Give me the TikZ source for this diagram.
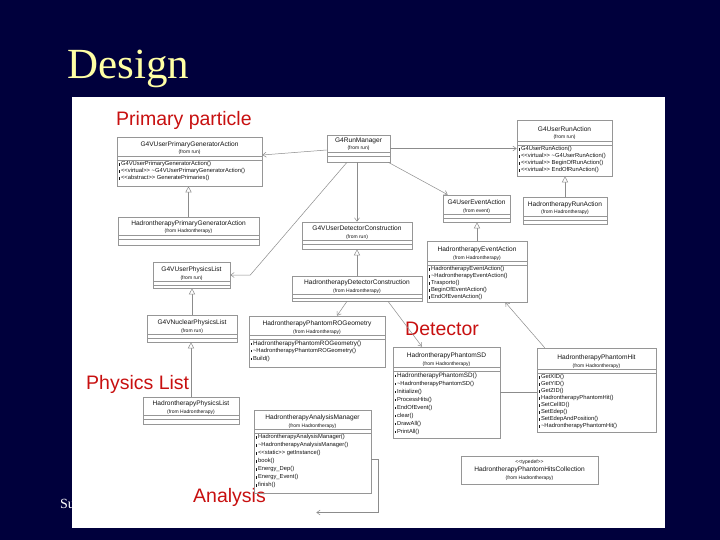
\documentclass[tikz,border=0pt]{standalone}
\usepackage{fontspec}
\setmainfont{Liberation Serif}
\newfontfamily\sansf{Liberation Sans}
\usetikzlibrary{arrows.meta,fit}
\definecolor{navybg}{RGB}{0,0,60}
\definecolor{ttlyellow}{RGB}{255,255,165}
\definecolor{lblred}{RGB}{200,16,16}
\definecolor{boxgray}{RGB}{150,150,150}
\definecolor{linegray}{RGB}{140,140,140}
\definecolor{txt}{RGB}{20,20,20}
\newcommand\mk{\rule[0.4pt]{1.1pt}{2.3pt}\kern0.8pt}
\tikzset{
  cbox/.style={draw=boxgray, line width=0.6pt, inner sep=0pt},
  cline/.style={draw=boxgray, line width=0.6pt},
  nm/.style={font=\sansf\fontsize{6.6}{7}\selectfont, text=txt, inner sep=0pt, anchor=base},
  fr/.style={font=\sansf\fontsize{5}{6}\selectfont, text=txt, inner sep=0pt, anchor=base},
  meth/.style={font=\sansf\fontsize{5.8}{7}\selectfont, text=txt, inner sep=0pt, anchor=north west, align=left},
  assoc/.style={draw=linegray, line width=0.5pt, -{Straight Barb[length=3.5pt,width=5pt]}},
  plainc/.style={draw=linegray, line width=0.5pt},
  gen/.style={draw=linegray, line width=0.5pt, -{Triangle[open,length=6pt,width=6pt,fill=white]}},
  lbl/.style={font=\sansf\fontsize{19.5}{20}\selectfont, text=lblred, inner sep=0pt, anchor=base west},
}
\newcommand\umlc[9]{%
  \node[cbox, fit={(#2,#3) (#4,#5)}] (#1) {};
  \draw[cline] (#2,#3+#6) -- (#4,#3+#6) (#2,#3+#6+4) -- (#4,#3+#6+4);
  \node[nm] (#1-n) at ({(#2+#4)/2},#3+#6-9.5) {#7};
  \node[fr] (#1-f) at ({(#2+#4)/2},#3+#6-2) {#8};
  \node[meth] (#1-m) at (#2+2,#3+#6+5.5) {#9};
}
\begin{document}
\begin{tikzpicture}[x=1pt,y=-1pt]
\fill[navybg] (0,0) rectangle (720,540);
\useasboundingbox (0,0) rectangle (720,540);
\node[anchor=base west, inner sep=0pt, font=\fontsize{43}{43}\selectfont, text=ttlyellow] (title) at (67,79) {Design};
\node[anchor=base west, inner sep=0pt, font=\fontsize{14}{14}\selectfont, text=white] (su) at (60,508) {Su};
\fill[white] (72,97) rectangle (665,528);

\node[lbl] (lpp) at (116,126) {Primary particle};
\node[lbl] (ldet) at (405,335) {Detector};
\node[lbl] (lphys) at (86,389) {Physics List};
\node[lbl] (lana) at (193,502) {Analysis};

\umlc{gpga}{117}{137}{262}{186}{19}{G4VUserPrimaryGeneratorAction}{(from run)}{\mk G4VUserPrimaryGeneratorAction()\\\mk <<virtual>> \textasciitilde G4VUserPrimaryGeneratorAction()\\\mk <<abstract>> GeneratePrimaries()}
\umlc{rm}{327}{135}{390}{162}{17}{G4RunManager}{(from run)}{}
\umlc{ura}{517}{120}{612}{176}{21}{G4UserRunAction}{(from run)}{\mk G4UserRunAction()\\\mk <<virtual>> \textasciitilde G4UserRunAction()\\\mk <<virtual>> BeginOfRunAction()\\\mk <<virtual>> EndOfRunAction()}
\umlc{uea}{443}{195}{510}{222}{19}{G4UserEventAction}{(from event)}{}
\umlc{hra}{523}{197}{607}{224}{19}{HadrontherapyRunAction}{(from Hadrontherapy)}{}
\umlc{hpga}{118}{217}{259}{245}{18}{HadrontherapyPrimaryGeneratorAction}{(from Hadrontherapy)}{}
\umlc{udc}{302}{222}{412}{249}{18}{G4VUserDetectorConstruction}{(from run)}{}
\umlc{hea}{427}{241}{527}{302}{20}{HadrontherapyEventAction}{(from Hadrontherapy)}{\mk HadrontherapyEventAction()\\\mk \textasciitilde HadrontherapyEventAction()\\\mk Trasporto()\\\mk BeginOfEventAction()\\\mk EndOfEventAction()}
\umlc{upl}{153}{262}{230}{288}{19}{G4VUserPhysicsList}{(from run)}{}
\umlc{hdc}{292}{276}{422}{301}{18}{HadrontherapyDetectorConstruction}{(from Hadrontherapy)}{}
\umlc{vnpl}{147}{315}{237}{342}{19}{G4VNuclearPhysicsList}{(from run)}{}
\umlc{rog}{249}{316}{385}{367}{19}{HadrontherapyPhantomROGeometry}{(from Hadrontherapy)}{\fontsize{6.3}{7.5}\selectfont\mk HadrontherapyPhantomROGeometry()\\[0.5pt]\mk \textasciitilde HadrontherapyPhantomROGeometry()\\[0.5pt]\mk Build()}
\umlc{psd}{393}{347}{500}{438}{20}{HadrontherapyPhantomSD}{(from Hadrontherapy)}{\fontsize{6.3}{8}\selectfont\mk HadrontherapyPhantomSD()\\[1pt]\mk \textasciitilde HadrontherapyPhantomSD()\\[1pt]\mk Initialize()\\[1pt]\mk ProcessHits()\\[1pt]\mk EndOfEvent()\\[1pt]\mk clear()\\[1pt]\mk DrawAll()\\[1pt]\mk PrintAll()}
\umlc{phit}{537}{348}{656}{432}{21}{HadrontherapyPhantomHit}{(from Hadrontherapy)}{\mk GetXID()\\\mk GetYID()\\\mk GetZID()\\\mk HadrontherapyPhantomHit()\\\mk SetCellID()\\\mk SetEdep()\\\mk SetEdepAndPosition()\\\mk \textasciitilde HadrontherapyPhantomHit()}
\umlc{hpl}{143}{397}{239}{424}{18}{HadrontherapyPhysicsList}{(from Hadrontherapy)}{}
\umlc{ham}{254}{410}{371}{493}{19}{HadrontherapyAnalysisManager}{(from Hadrontherapy)}{\mk HadrontherapyAnalysisManager()\\[1pt]\mk \textasciitilde HadrontherapyAnalysisManager()\\[1pt]\mk <<static>> getInstance()\\[1pt]\mk book()\\[1pt]\mk Energy\_Dep()\\[1pt]\mk Energy\_Event()\\[1pt]\mk finish()}

\node[cbox, fit={(461,456) (598,484)}] (hphc) {};
\node[fr] (hphc-s) at (529.5,463.5) {<<typedef>>};
\node[nm] (hphc-n) at (529.5,471) {HadrontherapyPhantomHitsCollection};
\node[fr] (hphc-f) at (529.5,479) {(from Hadrontherapy)};

\draw[gen] (hpga.north) -- (hpga.north |- gpga.south);
\draw[assoc] ([yshift=-1.5pt]rm.west) -- ([yshift=6.5pt]gpga.east);
\draw[assoc] (rm.east) -- (rm.east -| ura.west);
\draw[assoc] ([xshift=-2pt]rm.south east) -- ([xshift=5pt]uea.north west);
\draw[assoc] (udc.north |- rm.south) -- (udc.north);
\draw[assoc] ([xshift=-11.5pt]rm.south) -- ([xshift=20pt]upl.east) -- (upl.east);
\draw[gen] (hra.north) -- (hra.north |- ura.south);
\draw[gen] (hea.north) -- (hea.north |- uea.south);
\draw[gen] (hdc.north) -- (hdc.north |- udc.south);
\draw[gen] (vnpl.north) -- (vnpl.north |- upl.south);
\draw[gen] (hpl.north) -- (hpl.north |- vnpl.south);
\draw[assoc] ([xshift=-10pt]hdc.south) -- ([xshift=20pt]rog.north);
\draw[assoc] ([xshift=31pt]hdc.south) -- ([xshift=-24.5pt]psd.north);
\draw[plainc] (psd.east) -- (psd.east -| phit.west);
\draw[assoc] ([xshift=8pt]phit.north west) -- ([xshift=-22pt]hea.south east);
\draw[assoc] ([yshift=-8pt]ham.east) -- ++(7,0) -- ++(0,53) -- ++(-62,0);
\end{tikzpicture}
\end{document}
